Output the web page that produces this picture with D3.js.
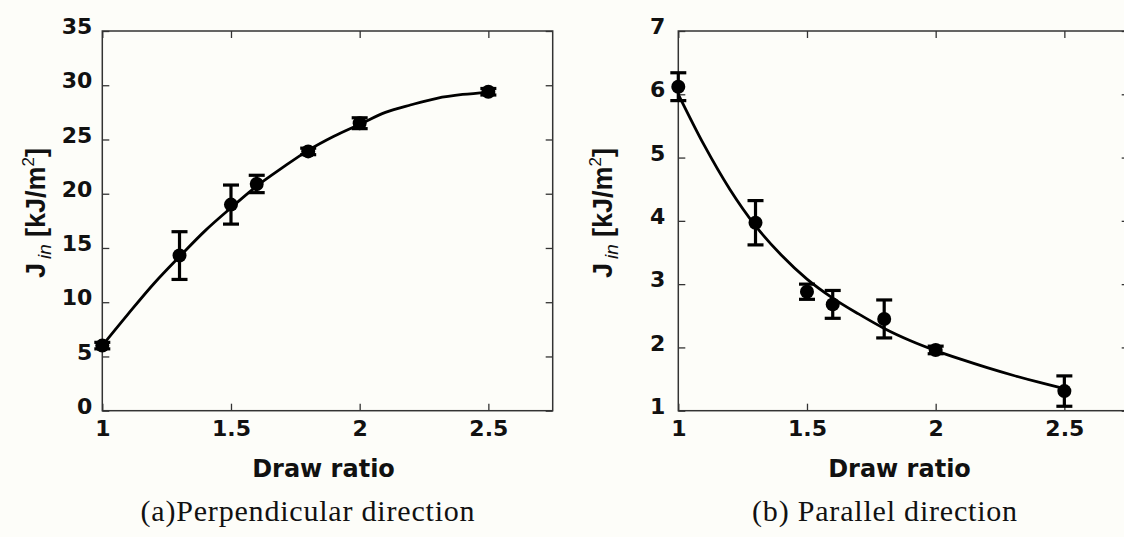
<!DOCTYPE html>
<html lang="en">
<head>
<meta charset="utf-8">
<title>Impact strength vs draw ratio</title>
<script src="https://cdn.jsdelivr.net/npm/d3@7"></script>
<style>
  body { margin: 0; background: #fdfdf9; }
  svg { display: block; }
  .tick text { font-family: "DejaVu Sans", sans-serif; font-weight: bold; font-size: 22px; fill: #111; }
  .tick line { stroke: #333; stroke-width: 1.3; }
  .lbl { font-family: "DejaVu Sans", sans-serif; font-weight: bold; fill: #111; }
  .ylbl { font-family: "Liberation Sans", Arial, sans-serif; font-weight: bold; fill: #111; }
  .cap { font-family: "Liberation Serif", "Times New Roman", serif; font-size: 30px; letter-spacing: 0.8px; fill: #111; }
</style>
</head>
<body>
<svg id="chart" width="1124" height="537"></svg>
<script>
// measured points (draw ratio on x)
var drawRatio = [1, 1.3, 1.5, 1.6, 1.8, 2, 2.5];
var perpMean = [6.0, 14.3, 19.0, 20.9, 23.9, 26.5, 29.4];
var perpErr  = [0.3, 2.2, 1.8, 0.8, 0.3, 0.5, 0.3];
var parMean  = [6.12, 3.97, 2.88, 2.68, 2.45, 1.96, 1.31];
var parErr   = [0.22, 0.35, 0.12, 0.22, 0.30, 0.06, 0.24];

// fitted curves
var fitX    = [1, 1.1, 1.2, 1.3, 1.4, 1.5, 1.6, 1.7, 1.8, 1.9, 2, 2.1, 2.2, 2.3, 2.4, 2.5];
var fitPerp = [6.0, 8.9, 11.7, 14.2, 16.6, 18.7, 20.7, 22.4, 24.0, 25.3, 26.4, 27.5, 28.2, 28.8, 29.15, 29.35];
var fitPar  = [6.0, 5.2, 4.5, 3.92, 3.46, 3.08, 2.78, 2.53, 2.30, 2.11, 1.95, 1.81, 1.68, 1.56, 1.45, 1.35];

var xTicks    = [1, 1.5, 2, 2.5];
var perpTicks = [0, 5, 10, 15, 20, 25, 30, 35];
var parTicks  = [1, 2, 3, 4, 5, 6, 7];

var svg = d3.select("#chart");

function panel(o) {
  var x = d3.scaleLinear().domain([1, 2.75]).range([o.left, o.left + 450.4]);
  var y = d3.scaleLinear().domain(o.yDomain).range([410.7, 31]);
  var g = svg.append("g");

  // box
  g.append("rect")
    .attr("x", x(1)).attr("y", y(o.yDomain[1]))
    .attr("width", x(2.75) - x(1)).attr("height", y(o.yDomain[0]) - y(o.yDomain[1]))
    .attr("fill", "none").attr("stroke", "#333").attr("stroke-width", 1.5);

  var noDomain = function(s) { s.select(".domain").remove(); };

  g.append("g").attr("transform", "translate(0," + y(o.yDomain[0]) + ")")
    .call(d3.axisBottom(x).tickValues(xTicks).tickSize(-7).tickPadding(10).tickFormat(d3.format("")))
    .call(noDomain);
  g.append("g").attr("transform", "translate(0," + y(o.yDomain[1]) + ")")
    .call(d3.axisTop(x).tickValues(xTicks).tickSize(-7).tickFormat(""))
    .call(noDomain);
  g.append("g").attr("transform", "translate(" + x(1) + ",0)")
    .call(d3.axisLeft(y).tickValues(o.yTicks).tickSize(-7).tickPadding(o.yPad).tickFormat(d3.format("")))
    .call(noDomain)
    .selectAll("text").attr("dy", "0.12em");
  g.append("g").attr("transform", "translate(" + x(2.75) + ",0)")
    .call(d3.axisRight(y).tickValues(o.yTicks).tickSize(-7).tickFormat(""))
    .call(noDomain);

  // fitted curve
  var line = d3.line()
    .x(function(d, i) { return x(fitX[i]); })
    .y(function(d) { return y(d); })
    .curve(d3.curveMonotoneX);
  g.append("path").datum(o.fit)
    .attr("d", line)
    .attr("fill", "none").attr("stroke", "#000").attr("stroke-width", 2.8);

  // error bars
  var eb = g.selectAll(".eb").data(drawRatio).enter().append("g").attr("class", "eb");
  eb.append("line")
    .attr("x1", function(d) { return x(d); }).attr("x2", function(d) { return x(d); })
    .attr("y1", function(d, i) { return y(o.mean[i] - o.err[i]); })
    .attr("y2", function(d, i) { return y(o.mean[i] + o.err[i]); });
  [-1, 1].forEach(function(s) {
    eb.append("line")
      .attr("x1", function(d) { return x(d) - 8; }).attr("x2", function(d) { return x(d) + 8; })
      .attr("y1", function(d, i) { return y(o.mean[i] + s * o.err[i]); })
      .attr("y2", function(d, i) { return y(o.mean[i] + s * o.err[i]); });
  });
  eb.selectAll("line").attr("stroke", "#000").attr("stroke-width", 3.2);

  g.selectAll(".pt").data(drawRatio).enter().append("circle")
    .attr("class", "pt")
    .attr("cx", function(d) { return x(d); })
    .attr("cy", function(d, i) { return y(o.mean[i]); })
    .attr("r", 7).attr("fill", "#000");

  // axis titles
  g.append("text").attr("class", "lbl")
    .attr("x", (x(1) + x(2.75)) / 2 - 4).attr("y", 477)
    .attr("text-anchor", "middle").attr("font-size", 24)
    .text("Draw ratio");

  var yl = g.append("text").attr("class", "ylbl")
    .attr("transform", "translate(" + o.ylabX + ",213) rotate(-90)")
    .attr("text-anchor", "middle").attr("font-size", 27);
  yl.append("tspan").text("J");
  yl.append("tspan").attr("font-size", 19).attr("font-style", "italic").attr("font-weight", "normal")
    .attr("dx", 4).attr("dy", 6).text("in");
  yl.append("tspan").attr("dx", 7).attr("dy", -6).text("[kJ/m");
  yl.append("tspan").attr("font-size", 17).attr("font-weight", "normal").attr("dy", -11).text("2");
  yl.append("tspan").attr("dy", 11).text("]");

  svg.append("text").attr("class", "cap")
    .attr("x", o.capX).attr("y", 521)
    .attr("text-anchor", "middle")
    .text(o.caption);
}

panel({
  left: 102.3, yDomain: [0, 35], yTicks: perpTicks, yPad: 10,
  mean: perpMean, err: perpErr, fit: fitPerp,
  ylabX: 45, capX: 308, caption: "(a)Perpendicular direction"
});
panel({
  left: 678.3, yDomain: [1, 7], yTicks: parTicks, yPad: 13,
  mean: parMean, err: parErr, fit: fitPar,
  ylabX: 612, capX: 885, caption: "(b) Parallel direction"
});
</script>
</body>
</html>
